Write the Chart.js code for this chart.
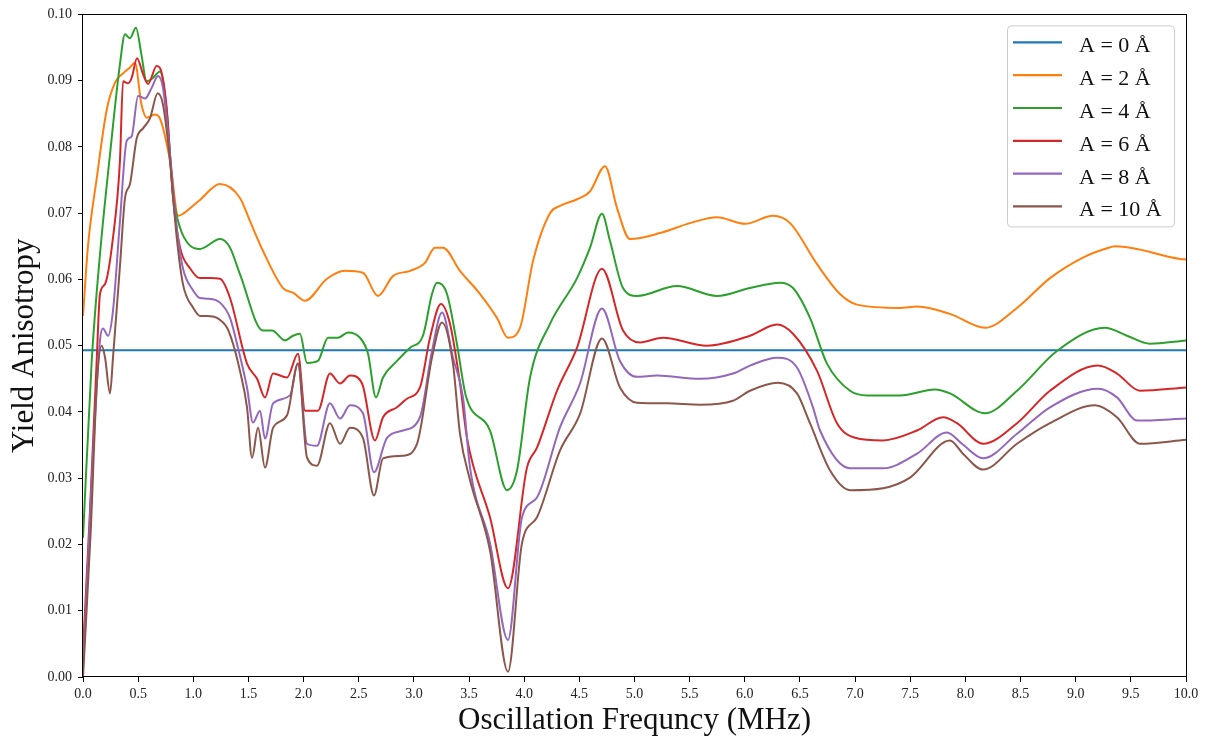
<!DOCTYPE html>
<html>
<head>
<meta charset="utf-8">
<script src="https://cdn.jsdelivr.net/npm/chart.js@4.4.1/dist/chart.umd.min.js"></script>
<style>
  html, body { margin: 0; padding: 0; background: #fff; }
  canvas { display: block; }
</style>
</head>
<body>
<canvas id="chart" width="1205" height="736"></canvas>
<script>
// Series labels and line colours
const seriesLabels = ['A = 0 Å', 'A = 2 Å', 'A = 4 Å', 'A = 6 Å', 'A = 8 Å', 'A = 10 Å'];
const seriesColors = ['#1f77b4', '#ff7f0e', '#2ca02c', '#d62728', '#9467bd', '#8c564b'];

// Axis ticks
const freqTicks = [0, 0.5, 1, 1.5, 2, 2.5, 3, 3.5, 4, 4.5, 5, 5.5, 6, 6.5, 7, 7.5, 8, 8.5, 9, 9.5, 10];
const anisoTicks = [0, 0.01, 0.02, 0.03, 0.04, 0.05, 0.06, 0.07, 0.08, 0.09, 0.10];

// Yield anisotropy against oscillation frequency, [MHz, anisotropy]
const seriesA0 = [[0, 0.0493], [10, 0.0493]];

const seriesA2 = [
  [0, 0.0545], [0.045, 0.0650], [0.124, 0.0752], [0.215, 0.0856], [0.29, 0.0897], [0.363, 0.0911],
  [0.426, 0.0920], [0.471, 0.0927], [0.53, 0.0864], [0.58, 0.0844], [0.65, 0.0849], [0.7, 0.0842],
  [0.789, 0.0779], [0.864, 0.0696], [0.906, 0.0699], [1.06, 0.0720], [1.242, 0.0744], [1.423, 0.0723],
  [1.514, 0.0688], [1.632, 0.0643], [1.813, 0.0587], [1.904, 0.0580], [2.013, 0.0568], [2.212, 0.0601],
  [2.375, 0.0613], [2.538, 0.0610], [2.674, 0.0575], [2.81, 0.0605], [2.965, 0.0613], [3.1, 0.0625],
  [3.19, 0.0648], [3.264, 0.0648], [3.418, 0.0613], [3.6, 0.0578], [3.753, 0.0542], [3.853, 0.0512],
  [3.962, 0.0527], [4.08, 0.0628], [4.234, 0.0700], [4.325, 0.0711], [4.479, 0.0721], [4.597, 0.0733],
  [4.733, 0.0771], [4.841, 0.0708], [4.959, 0.0661], [5.231, 0.0670], [5.503, 0.0685], [5.748, 0.0694],
  [6.002, 0.0684], [6.256, 0.0696], [6.41, 0.0685], [6.655, 0.0623], [6.863, 0.0578], [7.017, 0.0562],
  [7.407, 0.0557], [7.561, 0.0559], [7.86, 0.0548], [8.178, 0.0527], [8.468, 0.0557], [8.767, 0.0602],
  [9.066, 0.0633], [9.284, 0.0647], [9.36, 0.0650], [9.946, 0.0631], [10, 0.0630]
];

const seriesA4 = [
  [0, 0.021], [0.079, 0.0477], [0.154, 0.0638], [0.245, 0.0789], [0.335, 0.0925], [0.381, 0.0970],
  [0.426, 0.0964], [0.48, 0.0980], [0.53, 0.0939], [0.576, 0.0899], [0.634, 0.0904], [0.698, 0.0914],
  [0.759, 0.0854], [0.816, 0.0729], [0.88, 0.0678], [0.97, 0.0651], [1.06, 0.0646], [1.242, 0.0661],
  [1.333, 0.0648], [1.423, 0.0608], [1.632, 0.0523], [1.714, 0.0523], [1.831, 0.0508], [1.904, 0.0515],
  [1.967, 0.0518], [2.031, 0.0474], [2.13, 0.0477], [2.221, 0.0512], [2.312, 0.0512], [2.403, 0.0520],
  [2.511, 0.0512], [2.584, 0.0488], [2.656, 0.0422], [2.72, 0.0452], [2.847, 0.0477], [2.965, 0.0497],
  [3.082, 0.0515], [3.164, 0.0578], [3.209, 0.0595], [3.3, 0.0578], [3.39, 0.0503], [3.47, 0.0425],
  [3.69, 0.0372], [3.844, 0.0282], [3.935, 0.0312], [4.053, 0.0452], [4.234, 0.0533], [4.479, 0.0602],
  [4.597, 0.0648], [4.705, 0.0699], [4.778, 0.0658], [4.896, 0.0587], [5.023, 0.0575], [5.385, 0.0590],
  [5.748, 0.0575], [6.047, 0.0587], [6.319, 0.0595], [6.437, 0.0587], [6.591, 0.0542], [6.745, 0.0473],
  [6.954, 0.0432], [7.108, 0.0425], [7.407, 0.0425], [7.724, 0.0434], [7.86, 0.0428], [8.178, 0.0398],
  [8.468, 0.0432], [8.83, 0.0492], [9.266, 0.0527], [9.465, 0.0515], [9.673, 0.0503], [10, 0.0508]
];

const seriesA6 = [
  [0, 0.004], [0.06, 0.024], [0.124, 0.0477], [0.154, 0.0578], [0.2, 0.0593], [0.272, 0.0663],
  [0.335, 0.0779], [0.363, 0.0899], [0.408, 0.0896], [0.441, 0.0904], [0.49, 0.0934], [0.544, 0.0910],
  [0.59, 0.0895], [0.668, 0.0922], [0.698, 0.0919], [0.759, 0.0858], [0.816, 0.0723], [0.88, 0.0648],
  [0.97, 0.0617], [1.06, 0.0602], [1.151, 0.0602], [1.242, 0.0601], [1.333, 0.0572], [1.487, 0.0473],
  [1.578, 0.0450], [1.65, 0.0422], [1.723, 0.0458], [1.85, 0.0452], [1.949, 0.0488], [2.013, 0.0402],
  [2.13, 0.0402], [2.239, 0.0458], [2.33, 0.0443], [2.421, 0.0455], [2.53, 0.0443], [2.647, 0.0357],
  [2.72, 0.0392], [2.847, 0.0407], [2.937, 0.0420], [3.055, 0.0437], [3.146, 0.0512], [3.245, 0.0563],
  [3.327, 0.0533], [3.418, 0.0443], [3.481, 0.0361], [3.69, 0.0241], [3.853, 0.0134], [4.025, 0.0316],
  [4.116, 0.0346], [4.297, 0.0432], [4.479, 0.0497], [4.705, 0.0616], [4.896, 0.0523], [5.05, 0.0505],
  [5.258, 0.0512], [5.657, 0.0500], [6.047, 0.0515], [6.292, 0.0532], [6.437, 0.0518], [6.655, 0.0462],
  [6.836, 0.0383], [6.999, 0.0361], [7.253, 0.0357], [7.561, 0.0372], [7.797, 0.0392], [7.924, 0.0383],
  [8.16, 0.0352], [8.468, 0.0383], [8.767, 0.0432], [9.202, 0.0470], [9.374, 0.0458], [9.583, 0.0432],
  [10, 0.0437]
];

const seriesA8 = [
  [0, 0.001], [0.08, 0.030], [0.154, 0.0508], [0.181, 0.0526], [0.227, 0.0515], [0.272, 0.0553],
  [0.335, 0.0688], [0.396, 0.0809], [0.441, 0.0816], [0.499, 0.0877], [0.562, 0.0873], [0.622, 0.0889],
  [0.68, 0.0907], [0.725, 0.0889], [0.789, 0.0789], [0.85, 0.0678], [0.906, 0.0617], [1.0, 0.0583],
  [1.06, 0.0572], [1.124, 0.0571], [1.242, 0.0565], [1.333, 0.0542], [1.396, 0.0503], [1.487, 0.0437],
  [1.541, 0.0384], [1.605, 0.0402], [1.65, 0.0360], [1.723, 0.0413], [1.877, 0.0425], [1.949, 0.0473],
  [2.031, 0.0352], [2.121, 0.0349], [2.239, 0.0413], [2.33, 0.0390], [2.421, 0.0410], [2.538, 0.0398],
  [2.638, 0.0309], [2.756, 0.0361], [2.901, 0.0372], [3.055, 0.0392], [3.164, 0.0492], [3.255, 0.0550],
  [3.354, 0.0482], [3.445, 0.0422], [3.509, 0.0316], [3.69, 0.0202], [3.853, 0.0056], [3.98, 0.0241],
  [4.116, 0.0271], [4.325, 0.0377], [4.506, 0.0443], [4.705, 0.0556], [4.868, 0.0477], [5.023, 0.0453],
  [5.204, 0.0455], [5.594, 0.0450], [5.893, 0.0458], [6.047, 0.0470], [6.292, 0.0482], [6.473, 0.0467],
  [6.618, 0.0407], [6.682, 0.0372], [6.954, 0.0315], [7.253, 0.0315], [7.561, 0.0337], [7.833, 0.0369],
  [7.969, 0.0352], [8.16, 0.0330], [8.468, 0.0367], [8.767, 0.0407], [9.202, 0.0435], [9.374, 0.0422],
  [9.556, 0.0387], [10, 0.0390]
];

const seriesA10 = [
  [0, 0.0], [0.07, 0.022], [0.127, 0.0447], [0.17, 0.0500], [0.2, 0.0482], [0.245, 0.0428],
  [0.272, 0.0482], [0.335, 0.0620], [0.381, 0.0723], [0.426, 0.0744], [0.487, 0.0813], [0.544, 0.0828],
  [0.607, 0.0843], [0.677, 0.0881], [0.725, 0.0864], [0.789, 0.0779], [0.85, 0.0663], [0.906, 0.0593],
  [1.0, 0.0557], [1.06, 0.0545], [1.124, 0.0545], [1.215, 0.0542], [1.306, 0.0527], [1.36, 0.0503],
  [1.423, 0.0462], [1.487, 0.0407], [1.532, 0.0331], [1.587, 0.0376], [1.65, 0.0316], [1.723, 0.0376],
  [1.85, 0.0395], [1.949, 0.0473], [2.031, 0.0331], [2.121, 0.0319], [2.239, 0.0383], [2.33, 0.0352],
  [2.421, 0.0376], [2.538, 0.0361], [2.638, 0.0274], [2.72, 0.0330], [2.901, 0.0334], [3.028, 0.0352],
  [3.164, 0.0482], [3.255, 0.0535], [3.354, 0.0473], [3.418, 0.0367], [3.509, 0.0297], [3.69, 0.0191],
  [3.853, 0.0008], [3.98, 0.0202], [4.116, 0.0241], [4.325, 0.0342], [4.506, 0.0397], [4.705, 0.0511],
  [4.868, 0.0437], [5.023, 0.0414], [5.295, 0.0413], [5.594, 0.0411], [5.893, 0.0417], [6.047, 0.0432],
  [6.301, 0.0444], [6.473, 0.0428], [6.591, 0.0383], [6.772, 0.0312], [6.954, 0.0282], [7.253, 0.0285],
  [7.498, 0.0301], [7.86, 0.0357], [7.978, 0.0337], [8.16, 0.0313], [8.468, 0.0352], [8.767, 0.0383],
  [9.175, 0.0410], [9.374, 0.0392], [9.583, 0.0352], [10, 0.0358]
];

const allSeries = [seriesA0, seriesA2, seriesA4, seriesA6, seriesA8, seriesA10];

const SERIF = "'Liberation Serif', 'DejaVu Serif', 'Times New Roman', serif";

// Closed frame around the plotting area (all four spines)
const framePlugin = {
  id: 'frame',
  afterDatasetsDraw(chart) {
    const { ctx, chartArea: a } = chart;
    ctx.save();
    ctx.strokeStyle = '#000';
    ctx.lineWidth = 1;
    ctx.strokeRect(Math.round(a.left) - 0.5, Math.round(a.top) + 0.5,
                   Math.round(a.right - a.left) + 1, Math.round(a.bottom - a.top) - 1);
    ctx.restore();
  }
};

// Boxed legend in the upper-right corner of the plotting area
const insetLegend = {
  id: 'insetLegend',
  afterDraw(chart) {
    const { ctx, chartArea: a } = chart;
    const sets = chart.data.datasets;
    const boxW = 167, rowH = 32.8, padTop = 17;
    const boxH = padTop * 2 + rowH * (sets.length - 1) + 3;
    const x0 = a.right - 12 - boxW, y0 = a.top + 11;
    ctx.save();
    ctx.beginPath();
    ctx.roundRect(x0 + 0.5, y0 + 0.5, boxW, boxH, 4);
    ctx.fillStyle = 'rgba(255,255,255,0.8)';
    ctx.fill();
    ctx.strokeStyle = '#cccccc';
    ctx.lineWidth = 1;
    ctx.stroke();
    ctx.font = '22px ' + SERIF;
    ctx.textBaseline = 'alphabetic';
    ctx.textAlign = 'left';
    sets.forEach((ds, i) => {
      const y = y0 + padTop + i * rowH;
      ctx.beginPath();
      ctx.moveTo(x0 + 6, y);
      ctx.lineTo(x0 + 55, y);
      ctx.strokeStyle = ds.borderColor;
      ctx.lineWidth = 2.2;
      ctx.stroke();
      ctx.fillStyle = '#111';
      ctx.fillText(ds.label, x0 + 72, y + 10);
    });
    ctx.restore();
  }
};

new Chart(document.getElementById('chart'), {
  type: 'line',
  data: {
    datasets: allSeries.map((pts, i) => ({
      label: seriesLabels[i],
      data: pts.map(([x, y]) => ({ x, y })),
      borderColor: seriesColors[i],
      backgroundColor: seriesColors[i],
      borderWidth: 2,
      pointRadius: 0,
      fill: false,
      cubicInterpolationMode: 'monotone',
      order: allSeries.length - i
    }))
  },
  options: {
    responsive: false,
    animation: false,
    devicePixelRatio: 1,
    layout: { padding: { left: 0, top: 13, right: 19, bottom: 0 } },
    plugins: {
      legend: { display: false },
      tooltip: { enabled: false }
    },
    scales: {
      x: {
        type: 'linear',
        min: 0, max: 10,
        afterFit(scale) { scale.height = 59; },
        afterBuildTicks(scale) { scale.ticks = freqTicks.map(v => ({ value: v })); },
        border: { display: false },
        grid: { drawOnChartArea: false, drawTicks: true, tickLength: 5, color: '#000', lineWidth: 1 },
        ticks: {
          autoSkip: false, maxRotation: 0, padding: 4, color: '#222',
          font: { family: SERIF, size: 14 },
          callback: v => Number(v).toFixed(1)
        },
        title: {
          display: true, text: 'Oscillation Frequncy (MHz)', color: '#111',
          font: { family: SERIF, size: 31, lineHeight: 1 },
          padding: { top: 0, bottom: 0 }
        }
      },
      y: {
        type: 'linear',
        min: 0, max: 0.1,
        afterFit(scale) { scale.width = 83; },
        afterBuildTicks(scale) { scale.ticks = anisoTicks.map(v => ({ value: v })); },
        border: { display: false },
        grid: { drawOnChartArea: false, drawTicks: true, tickLength: 5, color: '#000', lineWidth: 1 },
        ticks: {
          padding: 6, color: '#222',
          font: { family: SERIF, size: 14 },
          callback: v => Number(v).toFixed(2)
        },
        title: {
          display: true, text: 'Yield Anisotropy', color: '#111',
          font: { family: SERIF, size: 31, lineHeight: 1 },
          padding: { top: 9, bottom: 0 }
        }
      }
    }
  },
  plugins: [framePlugin, insetLegend]
});
</script>
</body>
</html>
